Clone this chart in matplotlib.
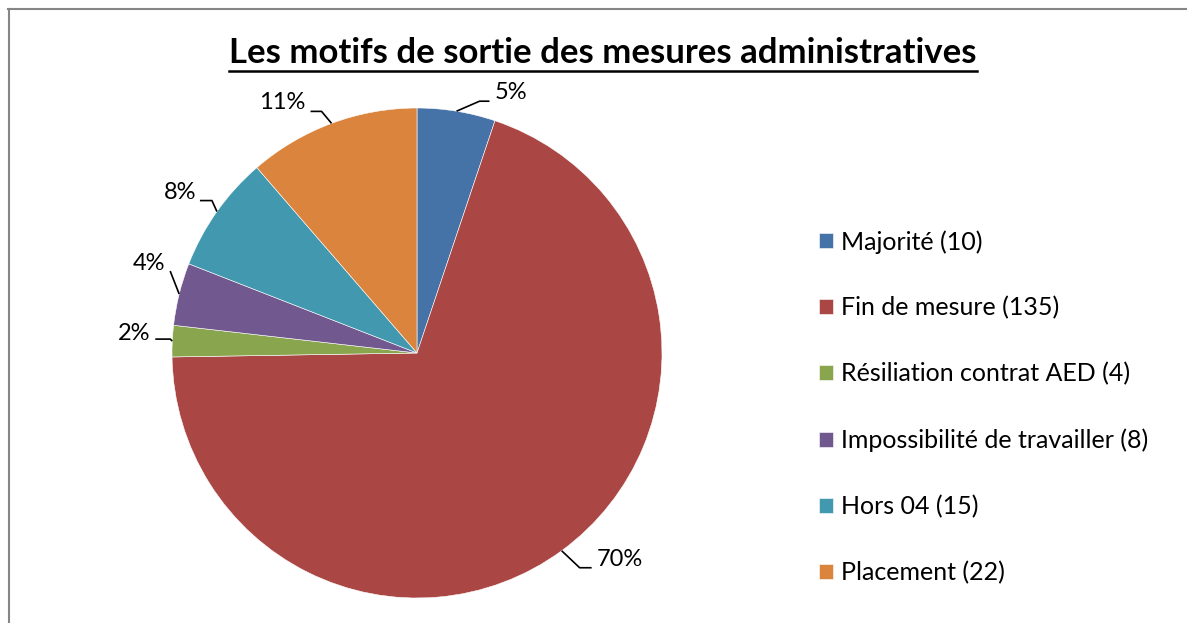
import matplotlib.pyplot as plt
from matplotlib.lines import Line2D
import numpy as np

plt.rcParams['font.family'] = ['Lato', 'DejaVu Sans']

categories = ['Majorité (10)', 'Fin de mesure (135)', 'Résiliation contrat AED (4)',
              'Impossibilité de travailler (8)', 'Hors 04 (15)', 'Placement (22)']
values = [10, 135, 4, 8, 15, 22]
colors = ['#4572A7', '#AA4643', '#89A54E', '#71588F', '#4198AF', '#DB843D']
title = 'Les motifs de sortie des mesures administratives'

# leader / label offsets in pixels from the wedge edge (x right, y down)
# (elbow dx, elbow dy, end dx, text dx, text dy, ha)
label_pos = [
    (23, -10, 33, 38, -19, 'left'),
    (18, 17, 30, 35, 9, 'left'),
    (-2, -2, -17, -22, -8, 'right'),
    (-9, -23, -9, -14, -31, 'right'),
    (-5, -11, -17, -21, -19, 'right'),
    (-10, -12, -21, -26, -21, 'right'),
]

W, H = 1187, 623
fig = plt.figure(figsize=(W / 100, H / 100), dpi=100)

# pie axes: centre (417, 353) px, radius 245 px
cx, cy, R = 417, 353, 245
ax = fig.add_axes([(cx - R) / W, (H - cy - R) / H, 2 * R / W, 2 * R / H])
wedges, _ = ax.pie(values, colors=colors, startangle=90, counterclock=False,
                   radius=1, wedgeprops=dict(edgecolor='white', linewidth=0.4))
ax.set_xlim(-1, 1)
ax.set_ylim(-1, 1)
ax.set_aspect('equal')
ax.axis('off')

total = sum(values)
px = 1.0 / R
for w, v, (ex, ey, endx, tx, ty, ha) in zip(wedges, values, label_pos):
    ang = np.deg2rad((w.theta1 + w.theta2) / 2)
    x0, y0 = np.cos(ang), np.sin(ang)
    xs = [x0, x0 + ex * px, x0 + endx * px]
    ys = [y0, y0 - ey * px, y0 - ey * px]
    ax.plot(xs, ys, color='black', lw=1.2, clip_on=False, solid_capstyle='butt')
    pct = '{:.0f}%'.format(100 * v / total)
    ax.text(x0 + tx * px, y0 - ty * px, pct, ha=ha, va='center',
            fontsize=17, color='black', clip_on=False)

# title with underline
t = fig.text(603 / W, 1 - 53 / H, title, ha='center', va='center',
             fontsize=25, fontweight='bold')
fig.canvas.draw()
bb = t.get_window_extent()
uy = 1 - 71 / H
fig.add_artist(Line2D([bb.x0 / W, bb.x1 / W], [uy, uy], color='black', lw=1.8))

# legend
leg = fig.legend(wedges, categories, loc='upper left',
                 bbox_to_anchor=(819 / W, 1 - 230 / H), frameon=False,
                 fontsize=18, handlelength=0.56, handleheight=0.56,
                 handletextpad=0.32, labelspacing=1.71, borderpad=0,
                 borderaxespad=0)

# chart frame (left and top edges visible)
fig.add_artist(Line2D([8.5 / W, 8.5 / W], [0, 1 - 9 / H], color='#868686', lw=1.5))
fig.add_artist(Line2D([8 / W, 1], [1 - 9 / H, 1 - 9 / H], color='#868686', lw=1.5))

fig.savefig('out.png', dpi=100)
